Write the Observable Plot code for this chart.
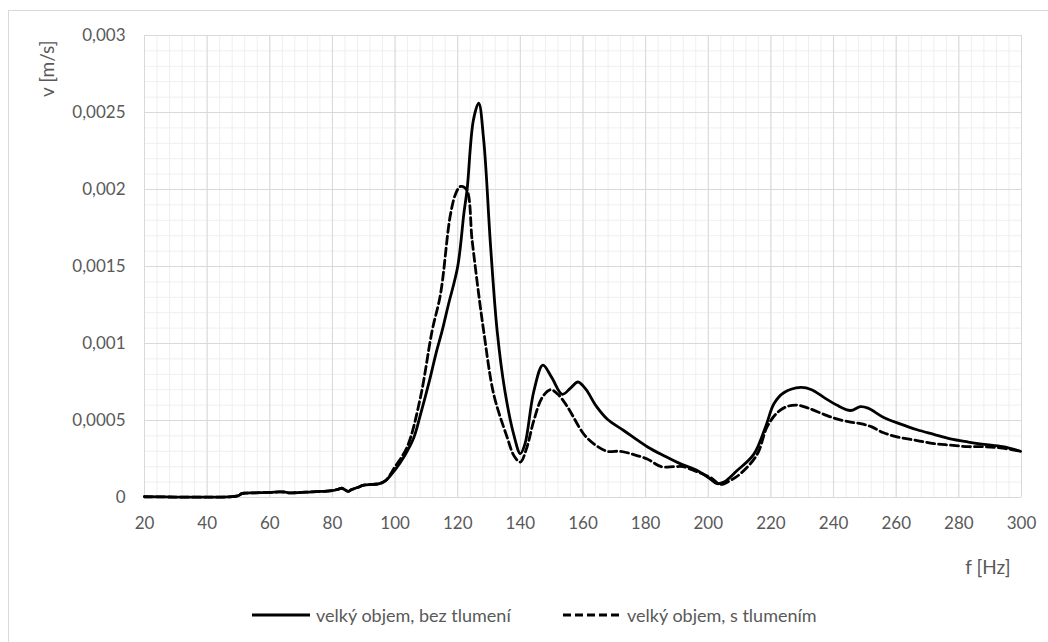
<!DOCTYPE html>
<html>
<head>
<meta charset="utf-8">
<script src="https://cdn.jsdelivr.net/npm/d3@7"></script>
<script src="https://cdn.jsdelivr.net/npm/@observablehq/plot@0.6"></script>
<style>
  html, body { margin: 0; padding: 0; background: #fff; }
  #wrap { position: relative; width: 1048px; height: 642px; overflow: hidden; background: #fff; font-family: Lato, "Open Sans", sans-serif; color: #595959; }
  #border { position: absolute; left: 8px; top: 10px; width: 1100px; height: 700px; border: 1px solid #d9d9d9; box-sizing: border-box; }
  #chart { position: absolute; left: 0; top: 0; }
  #legend { position: absolute; left: 0; top: 580px; width: 1048px; height: 62px; }
  .item { position: absolute; top: 25px; height: 20px; display: flex; align-items: center; font-size: 18px; color: #595959; white-space: nowrap; }
  .item svg { margin-right: 6px; }
</style>
</head>
<body>
<div id="wrap">
  <div id="border"></div>
  <div id="chart"></div>
  <div id="legend"></div>
</div>
<script>
// ---- data ----
const seriesNames = ["velký objem, bez tlumení", "velký objem, s tlumením"];

const fSolid = [20,30,40,48,50,51,52,55,60,63,65,66,68,70,75,80,82,83,85,86,88,90,93,95,97,100,103,106,108,111,113,115,117,120,122,123,125,126.7,128.3,130.5,132.6,135,138,140,141.5,144.3,147.2,150,153.4,156,158.4,161,164,167.7,173,180.5,186,191,196,200,202.9,205,209.2,214.5,218.3,221,224.1,229.5,233,236.9,241,245.4,248.6,251,256,261,266.7,272,277.3,283,288,294,299.7];
const vSolid = [0.000005,0.000003,0.000002,0.000005,0.000012,0.000025,0.000028,0.00003,0.000033,0.000036,0.000035,0.00003,0.000031,0.000033,0.000038,0.000045,0.000055,0.00006,0.00004,0.00005,0.000065,0.00008,0.000085,0.00009,0.00011,0.00018,0.00027,0.00039,0.00053,0.00076,0.00093,0.00108,0.00125,0.0015,0.00185,0.002,0.00245,0.00256,0.00232,0.00163,0.00108,0.0007,0.0004,0.000285,0.00035,0.00069,0.00086,0.00078,0.00067,0.00071,0.00075,0.0007,0.0006,0.00051,0.000435,0.00033,0.00027,0.00022,0.00018,0.00013,0.00009,0.0001,0.000175,0.00028,0.00046,0.00061,0.00068,0.000715,0.0007,0.00065,0.0006,0.000565,0.00059,0.00058,0.00052,0.00048,0.00044,0.00041,0.00038,0.00036,0.000345,0.00033,0.0003];

const fDashed = [20,30,40,48,50,51,52,55,60,63,65,66,68,70,75,80,82,83,85,86,88,90,93,95,97,100,103.9,108.1,111.8,114.5,117.7,119.5,120.9,122.8,124.6,126.7,128.3,131.5,135.8,138,140,142,144.3,147,149.6,152,155,160.3,164,167.7,172,176,180.5,185,189,192,196,200.7,203.9,207,210.3,215.6,218.8,222,225,228.4,232,236.9,241,245.4,248.6,252,256,261,266.7,272,277.3,283,288,294,299.7];
const vDashed = [0.000005,0.000003,0.000002,0.000005,0.000012,0.000025,0.000028,0.00003,0.000033,0.000036,0.000035,0.00003,0.000031,0.000033,0.000038,0.000045,0.000055,0.00006,0.00004,0.00005,0.000065,0.00008,0.000085,0.00009,0.00011,0.0002,0.00033,0.00065,0.00108,0.00132,0.00184,0.00198,0.00202,0.002,0.00167,0.00132,0.00108,0.00067,0.00039,0.00027,0.00023,0.00032,0.0005,0.00065,0.0007,0.00067,0.00059,0.00041,0.00034,0.0003,0.0003,0.00028,0.00025,0.0002,0.0002,0.0002,0.00017,0.00013,0.000085,0.00011,0.000155,0.00028,0.00046,0.00055,0.00059,0.0006,0.00058,0.00054,0.00051,0.00049,0.00048,0.00046,0.00042,0.00039,0.00037,0.00035,0.00034,0.00033,0.00033,0.00032,0.0003];

const xTicks = [20,40,60,80,100,120,140,160,180,200,220,240,260,280,300];
const xMinor = d3.range(20, 301, 4);
const yTicks = [0,0.0005,0.001,0.0015,0.002,0.0025,0.003];
const yMinor = d3.range(0, 31).map(i => i * 0.0001);
const xLabel = "f [Hz]";
const yLabel = "v [m/s]";

const solid = fSolid.map((f, i) => ({f, v: vSolid[i]}));
const dashed = fDashed.map((f, i) => ({f, v: vDashed[i]}));
const fmt = d => String(+d.toFixed(4)).replace(".", ",");

const font = "Lato, 'Open Sans', sans-serif";
const chart = Plot.plot({
  width: 1048,
  height: 580,
  marginLeft: 144,
  marginRight: 27,
  marginTop: 35,
  marginBottom: 83,
  style: {fontFamily: font, fontSize: "17px", color: "#595959", background: "transparent", overflow: "visible"},
  x: {domain: [20, 300], ticks: xTicks, tickFormat: d => String(d), tickSize: 0, tickPadding: 19, label: null},
  y: {domain: [0, 0.003], ticks: yTicks, tickFormat: fmt, tickSize: 0, tickPadding: 19, label: null},
  marks: [
    Plot.ruleX(xMinor, {stroke: "#efefef", strokeWidth: 1}),
    Plot.ruleY(yMinor, {stroke: "#efefef", strokeWidth: 1}),
    Plot.ruleX(xTicks, {stroke: "#d9d9d9", strokeWidth: 1}),
    Plot.ruleY(yTicks, {stroke: "#d9d9d9", strokeWidth: 1}),
    Plot.axisX({ticks: xTicks, tickFormat: d => String(d), tickSize: 0, tickPadding: 19, fontSize: 17, fill: "#595959"}),
    Plot.axisY({ticks: yTicks, tickFormat: fmt, tickSize: 0, tickPadding: 19, fontSize: 17, fill: "#595959"}),
    Plot.line(dashed, {x: "f", y: "v", stroke: "#000", strokeWidth: 2.8, strokeDasharray: "8,4", curve: "catmull-rom"}),
    Plot.line(solid, {x: "f", y: "v", stroke: "#000", strokeWidth: 2.8, curve: "catmull-rom"}),
    Plot.text([yLabel], {frameAnchor: "top-left", text: d => d, rotate: -90, textAnchor: "end", lineAnchor: "middle", dx: -97, dy: 5, fontSize: 19, fill: "#595959"}),
    Plot.text([xLabel], {frameAnchor: "bottom-right", text: d => d, textAnchor: "end", lineAnchor: "middle", dx: -11, dy: 70, fontSize: 19, fill: "#595959"})
  ]
});
document.getElementById("chart").appendChild(chart);

// legend
const legend = document.getElementById("legend");
const items = [
  {name: seriesNames[0], dash: null, left: 252},
  {name: seriesNames[1], dash: "8,4", left: 563}
];
for (const it of items) {
  const div = document.createElement("div");
  div.className = "item";
  div.style.left = it.left + "px";
  div.innerHTML = `<svg width="58" height="6"><line x1="0" x2="58" y1="3" y2="3" stroke="#000" stroke-width="2.8" ${it.dash ? `stroke-dasharray="${it.dash}"` : ""}></line></svg><span>${it.name}</span>`;
  legend.appendChild(div);
}
</script>
</body>
</html>
